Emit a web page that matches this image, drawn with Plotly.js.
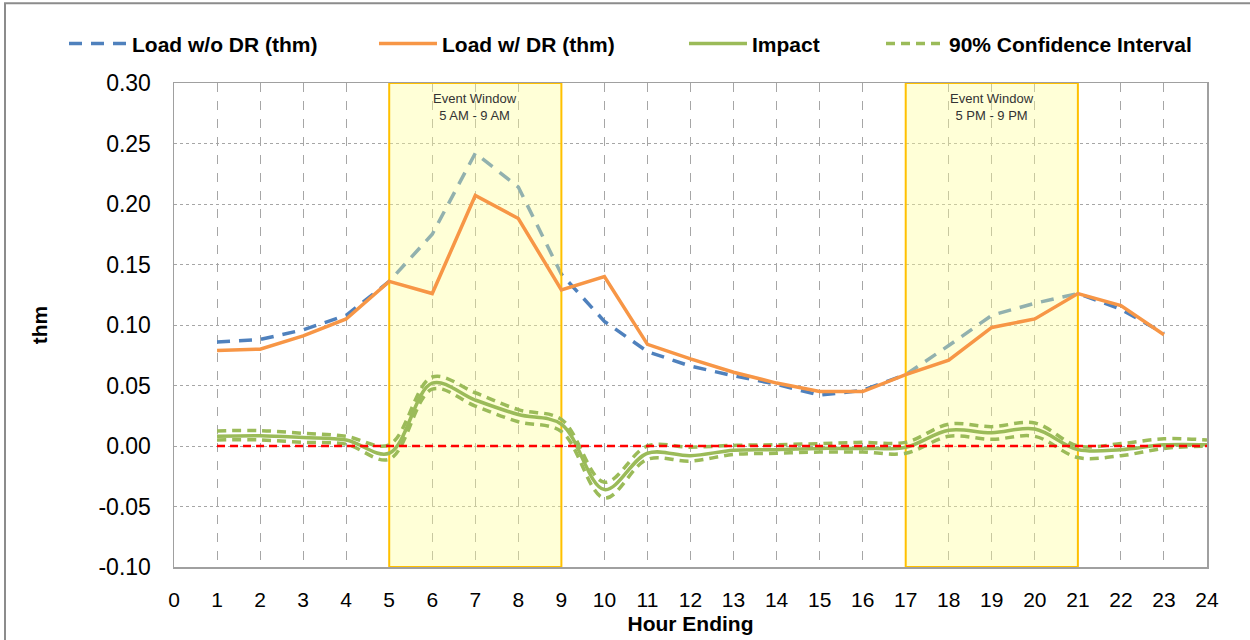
<!DOCTYPE html>
<html>
<head>
<meta charset="utf-8">
<script src="https://cdn.plot.ly/plotly-3.0.1.min.js"></script>
<style>html,body{margin:0;padding:0;background:#fff;}#chart{width:1250px;height:640px;}</style>
</head>
<body>
<div id="chart"></div>
<script>
// ---- Data ----
const loadHours = [1,2,3,4,5,6,7,8,9,10,11,12,13,14,15,16,17,18,19,20,21,22,23];
const loadWithoutDR = [0.086,0.088,0.096,0.108,0.136,0.175,0.242,0.214,0.142,0.103,0.078,0.066,0.058,0.051,0.042,0.046,0.059,0.083,0.108,0.118,0.126,0.113,0.093];
const loadWithDR    = [0.079,0.080,0.091,0.105,0.136,0.126,0.207,0.188,0.129,0.140,0.084,0.072,0.061,0.052,0.045,0.045,0.059,0.071,0.098,0.105,0.126,0.116,0.092];

const impactHours = [1,2,3,4,5,6,7,8,9,10,11,12,13,14,15,16,17,18,19,20,21,22,23,24];
const impact  = [0.008,0.0085,0.007,0.005,-0.006,0.052,0.038,0.026,0.018,-0.036,-0.006,-0.008,-0.0035,-0.003,-0.002,-0.002,-0.001,0.013,0.011,0.014,-0.003,-0.003,0.001,0.001];
const ciUpper = [0.0125,0.0127,0.0105,0.008,0.001,0.057,0.044,0.030,0.022,-0.030,0.000,-0.001,0.0005,0.001,0.002,0.003,0.003,0.018,0.016,0.019,0.000,0.002,0.006,0.005];
const ciLower = [0.005,0.005,0.003,0.0015,-0.011,0.047,0.033,0.020,0.012,-0.043,-0.011,-0.0125,-0.007,-0.006,-0.005,-0.005,-0.006,0.008,0.0055,0.008,-0.0095,-0.008,-0.002,0.000];

const eventWindows = [[5,9],[17,21]];
const eventLabels = ["Event Window<br>5 AM - 9 AM","Event Window<br>5 PM - 9 PM"];
const yRange = [-0.10, 0.30];
const yTicks = [-0.10,-0.05,0.00,0.05,0.10,0.15,0.20,0.25,0.30];
const xTicks = [0,1,2,3,4,5,6,7,8,9,10,11,12,13,14,15,16,17,18,19,20,21,22,23,24];
const baselineValue = 0;

// ---- Styles ----
const FONT = "Liberation Sans, Arial, sans-serif";
const BLUE = "#4f81bd", ORANGE = "#f79646", GREEN = "#9bbb59", RED = "#ff0000";

const traces = [];
traces.push({
  x: loadHours, y: loadWithoutDR, name: "Load w/o DR (thm)", mode: "lines", legend: "legend",
  line: {color: BLUE, width: 3.5, dash: "13px,9px"}, hoverinfo: "skip"
});
eventWindows.forEach(w => {
  traces.push({
    x: [w[0], w[1], w[1], w[0], w[0]],
    y: [yRange[0], yRange[0], yRange[1], yRange[1], yRange[0]],
    mode: "lines", fill: "toself", fillcolor: "rgba(255,255,150,0.38)",
    line: {color: "#ffc000", width: 2}, showlegend: false, hoverinfo: "skip"
  });
});
traces.push({
  x: loadHours, y: loadWithDR, name: "Load w/ DR (thm)", mode: "lines", legend: "legend2",
  line: {color: ORANGE, width: 3.5}, hoverinfo: "skip"
});
traces.push({
  x: impactHours, y: ciUpper, name: "90% Confidence Interval", mode: "lines", legend: "legend4",
  line: {color: GREEN, width: 3.5, dash: "9px,6px", shape: "spline", smoothing: 1}, hoverinfo: "skip"
});
traces.push({
  x: impactHours, y: ciLower, name: "90% Confidence Interval", mode: "lines", showlegend: false,
  line: {color: GREEN, width: 3.5, dash: "9px,6px", shape: "spline", smoothing: 1}, hoverinfo: "skip"
});
traces.push({
  x: impactHours, y: impact, name: "Impact", mode: "lines", legend: "legend3",
  line: {color: GREEN, width: 3.5, shape: "spline", smoothing: 1}, hoverinfo: "skip"
});
traces.push({
  x: [impactHours[0], impactHours[impactHours.length-1]], y: [baselineValue, baselineValue],
  mode: "lines", line: {color: RED, width: 2.5, dash: "8px,5px"}, showlegend: false, hoverinfo: "skip"
});

const annotations = eventWindows.map((w, i) => ({
  x: (w[0] + w[1]) / 2, y: yRange[1], xref: "x", yref: "y",
  text: eventLabels[i], showarrow: false, yanchor: "top", yshift: -6,
  font: {family: FONT, size: 13, color: "#333333"}, align: "center"
}));

function legendAt(x) {
  return {
    orientation: "h", x: x, xanchor: "left", y: 1.081, yanchor: "middle",
    font: {family: FONT, size: 21, weight: "bold", color: "#000"},
    itemwidth: 58, bgcolor: "rgba(0,0,0,0)"
  };
}

const layout = {
  width: 1250, height: 640,
  margin: {l: 174, r: 43, t: 83, b: 73},
  paper_bgcolor: "#ffffff", plot_bgcolor: "#ffffff",
  font: {family: FONT, color: "#000000"},
  showlegend: true,
  legend: legendAt(-0.1065),
  legend2: legendAt(0.1936),
  legend3: legendAt(0.4937),
  legend4: legendAt(0.6844),
  xaxis: {
    range: [0, 24], tickmode: "array", tickvals: xTicks, ticktext: xTicks.map(String),
    showgrid: true, gridcolor: "#a6a6a6", griddash: "dash", gridwidth: 1,
    showline: true, linecolor: "#a0a0a0", linewidth: 1.5, mirror: true,
    ticks: "", tickfont: {family: FONT, size: 21, color: "#000"},
    ticklabelstandoff: 13, zeroline: false,
    title: {text: "Hour Ending", font: {family: FONT, size: 21, weight: "bold", color: "#000"}, standoff: 6}
  },
  yaxis: {
    range: yRange, tickmode: "array", tickvals: yTicks, ticktext: yTicks.map(v => v.toFixed(2)),
    showgrid: true, gridcolor: "#a6a6a6", griddash: "dot", gridwidth: 1,
    showline: true, linecolor: "#a0a0a0", linewidth: 1.5, mirror: true,
    ticks: "", tickfont: {family: FONT, size: 23, color: "#000"},
    ticklabelstandoff: 17, zeroline: false,
    title: {text: "thm", font: {family: FONT, size: 21, weight: "bold", color: "#000"}, standoff: 45}
  },
  annotations: annotations,
  shapes: [{
    type: "rect", xref: "paper", yref: "paper",
    x0: -0.1636, x1: 1.045, y0: -0.16, y1: 1.165,
    line: {color: "#8c8c8c", width: 2}, fillcolor: "rgba(0,0,0,0)", layer: "below"
  }]
};

Plotly.newPlot("chart", traces, layout, {staticPlot: true, displayModeBar: false});
</script>
</body>
</html>
